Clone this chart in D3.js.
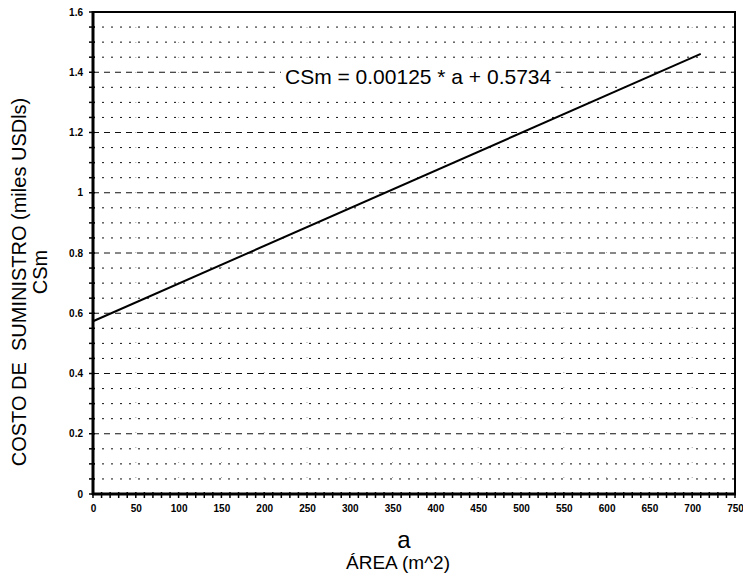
<!DOCTYPE html>
<html>
<head>
<meta charset="utf-8">
<script src="https://cdn.jsdelivr.net/npm/d3@7"></script>
<style>
  html, body { margin: 0; padding: 0; background: #fff; }
  svg { display: block; }
  text { font-family: "Liberation Sans", Arial, sans-serif; fill: #000; }
</style>
</head>
<body>
<svg id="chart" width="743" height="575"></svg>
<script>
// ---- data ----
const xTicks = [0, 50, 100, 150, 200, 250, 300, 350, 400, 450, 500, 550, 600, 650, 700, 750];
const yTicks = [0, 0.2, 0.4, 0.6, 0.8, 1, 1.2, 1.4, 1.6];
const yTickLabels = ["0", "0.2", "0.4", "0.6", "0.8", "1", "1.2", "1.4", "1.6"];
const gridValues = [0.05, 0.1, 0.15, 0.2, 0.25, 0.3, 0.35, 0.4, 0.45, 0.5, 0.55, 0.6, 0.65, 0.7, 0.75, 0.8, 0.85, 0.9, 0.95, 1, 1.05, 1.1, 1.15, 1.2, 1.25, 1.3, 1.35, 1.4, 1.45, 1.5, 1.55];
const lineArea = [0, 710];
const lineCost = [0.5734, 1.4609];
const equation = "CSm = 0.00125 * a + 0.5734";

// ---- layout ----
const svg = d3.select("#chart");
const mLeft = 93, mRight = 735, mTop = 12, mBottom = 494;
const x = d3.scaleLinear().domain([0, 750]).range([mLeft, mRight]);
const y = d3.scaleLinear().domain([0, 1.6]).range([mBottom, mTop]);

// horizontal dotted grid
svg.append("g").selectAll("line").data(gridValues).join("line")
  .attr("x1", mLeft).attr("x2", mRight)
  .attr("y1", d => y(d)).attr("y2", d => y(d))
  .attr("stroke", "#111").attr("stroke-width", 1)
  .attr("stroke-dasharray", d => (Math.round(d * 100) % 20 === 0) ? "6,5" : "2,7");

// vertical faint dotted grid
svg.append("g").selectAll("line").data(xTicks.slice(1, -1)).join("line")
  .attr("x1", d => x(d)).attr("x2", d => x(d))
  .attr("y1", mTop).attr("y2", mBottom)
  .attr("stroke", "#444").attr("stroke-width", 0.8)
  .attr("stroke-dasharray", "1,14").attr("opacity", 0.6);

// axes
const xAxis = d3.axisBottom(x).tickValues(xTicks).tickSize(0).tickPadding(11);
const gx = svg.append("g").attr("transform", `translate(0,${mBottom})`).call(xAxis);
gx.select(".domain").remove();
gx.selectAll("text").style("font-size", "10px").style("font-weight", "bold")
  .style("font-family", "'Liberation Sans', Arial, sans-serif");

const yAxis = d3.axisLeft(y).tickValues(yTicks).tickSize(0).tickPadding(10)
  .tickFormat((d, i) => yTickLabels[i]);
const gy = svg.append("g").attr("transform", `translate(${mLeft},0)`).call(yAxis);
gy.select(".domain").remove();
gy.selectAll("text").style("font-size", "10px").style("font-weight", "bold")
  .style("font-family", "'Liberation Sans', Arial, sans-serif");

// minor ticks
const xMinor = d3.range(0, 751, 10);
svg.append("g").selectAll("line").data(xMinor).join("line")
  .attr("x1", d => x(d)).attr("x2", d => x(d))
  .attr("y1", mBottom - 2).attr("y2", mBottom + 4)
  .attr("stroke", "#000").attr("stroke-width", 1.5);
const yMinor = d3.range(0, 33).map(i => i * 0.05);
svg.append("g").selectAll("line").data(yMinor).join("line")
  .attr("x1", mLeft - 4).attr("x2", mLeft + 2)
  .attr("y1", d => y(d)).attr("y2", d => y(d))
  .attr("stroke", "#000").attr("stroke-width", 1.5);

// frame
svg.append("rect").attr("x", mLeft).attr("y", mTop)
  .attr("width", mRight - mLeft).attr("height", mBottom - mTop)
  .attr("fill", "none").attr("stroke", "#000").attr("stroke-width", 2);
svg.append("line").attr("x1", mLeft).attr("x2", mLeft).attr("y1", mTop - 1).attr("y2", mBottom + 1)
  .attr("stroke", "#000").attr("stroke-width", 3);
svg.append("line").attr("x1", mLeft - 1).attr("x2", mRight + 1).attr("y1", mBottom).attr("y2", mBottom)
  .attr("stroke", "#000").attr("stroke-width", 3);

// regression line
const lineData = lineArea.map((a, i) => [a, lineCost[i]]);
svg.append("path").datum(lineData)
  .attr("d", d3.line().x(d => x(d[0])).y(d => y(d[1])))
  .attr("fill", "none").attr("stroke", "#000").attr("stroke-width", 2);

// equation with white background
const eq = svg.append("text").attr("x", 285).attr("y", 84)
  .style("font-size", "21px").text(equation);
const bb = eq.node().getBBox();
svg.insert("rect", () => eq.node())
  .attr("x", bb.x - 4).attr("y", bb.y).attr("width", bb.width + 8).attr("height", bb.height)
  .attr("fill", "#fff");

// axis titles
svg.append("text").attr("x", 404).attr("y", 548).attr("text-anchor", "middle")
  .style("font-size", "24px").text("a");
svg.append("text").attr("x", 398).attr("y", 569).attr("text-anchor", "middle")
  .style("font-size", "19px").text("ÁREA (m^2)");

svg.append("text").attr("transform", `translate(26,282) rotate(-90)`)
  .attr("text-anchor", "middle").style("font-size", "20px").style("white-space", "pre")
  .text("COSTO DE  SUMINISTRO (miles USDls)");
svg.append("text").attr("transform", `translate(47,272) rotate(-90)`)
  .attr("text-anchor", "middle").style("font-size", "20px").text("CSm");
</script>
</body>
</html>
